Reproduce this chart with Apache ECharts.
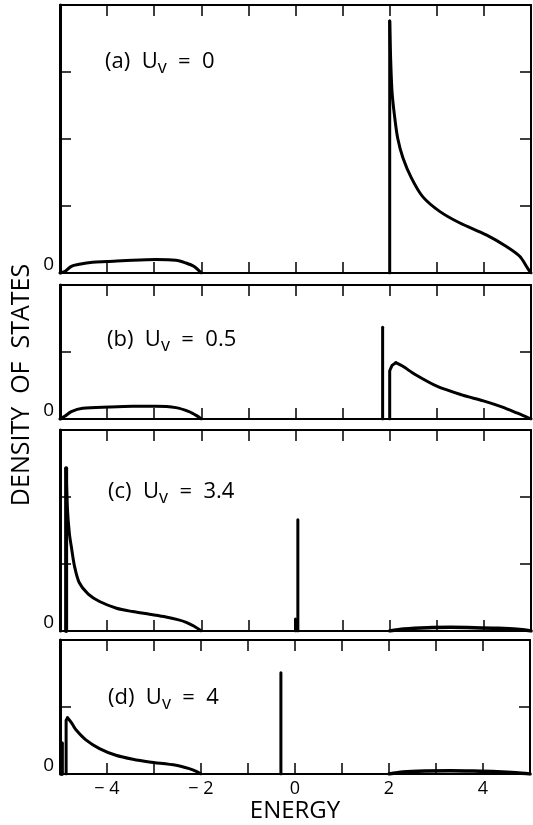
<!DOCTYPE html>
<html lang="en">
<head>
    <meta charset="UTF-8">
    <title>Density of states</title>
    <style>
      * { padding: 0; margin: 0; }
      body { background: #fff; }
    </style>
</head>
<body>
    <div id="main" style="width: 533px;height:825px;"></div>
    <script src="https://cdn.jsdelivr.net/npm/echarts@6/dist/echarts.min.js"></script>
    <script>
    // energy axis
    var energyMin = -5, energyMax = 5;
    var energyTickLabels = [-4, -2, 0, 2, 4];

    // panel titles and y ranges (same scale in every panel)
    var panelNames = ['(a)', '(b)', '(c)', '(d)'];
    var panelUv = ['0', '0.5', '3.4', '4'];
    var panelYMax = [4, 2, 3, 2];

    // (a) Uv = 0
    var aValence = [[-5,0],[-4.9,0.02],[-4.76,0.1],[-4.59,0.13],[-4.31,0.16],[-4.0,0.17],[-3.46,0.19],[-2.97,0.2],[-2.54,0.19],[-2.33,0.15],[-2.16,0.1],[-2.0,0]];
    var aSpike = [[2,0],[2,3.76]];
    var aConduction = [[2.0,3.76],[2.02,3.2],[2.05,2.7],[2.1,2.36],[2.17,2.01],[2.28,1.72],[2.46,1.42],[2.7,1.14],[3.06,0.92],[3.48,0.75],[4.05,0.57],[4.47,0.4],[4.76,0.25],[4.93,0.07],[5,0]];

    // (b) Uv = 0.5
    var bValence = [[-5,0],[-4.9,0.04],[-4.76,0.11],[-4.52,0.16],[-3.95,0.18],[-3.46,0.19],[-2.97,0.19],[-2.54,0.17],[-2.26,0.11],[-2.1,0.05],[-2.0,0]];
    var bBound = [[1.85,0],[1.85,1.37]];
    var bEdge = [[2.0,0],[2.0,0.72],[2.05,0.8],[2.13,0.84]];
    var bConduction = [[2.13,0.84],[2.27,0.79],[2.55,0.66],[3.0,0.49],[3.53,0.36],[3.99,0.27],[4.38,0.18],[4.7,0.09],[4.9,0.03],[5,0]];

    // (c) Uv = 3.4
    var cSpike = [[-4.87,0],[-4.87,2.43]];
    var cValence = [[-4.87,2.43],[-4.84,1.8],[-4.8,1.45],[-4.76,1.26],[-4.69,0.96],[-4.59,0.72],[-4.4,0.55],[-4.16,0.44],[-3.8,0.34],[-3.46,0.29],[-3.1,0.25],[-2.75,0.21],[-2.5,0.17],[-2.32,0.13],[-2.15,0.07],[-2.0,0]];
    var cBound = [[0.05,0],[0.05,1.66]];
    var cBoundStub = [[0.0,0],[0.0,0.18]];
    var cConduction = [[2,0],[2.3,0.03],[2.8,0.05],[3.3,0.055],[3.8,0.05],[4.3,0.04],[4.7,0.025],[5,0]];

    // (d) Uv = 4
    var dStub = [[-4.96,0],[-4.96,0.46]];
    var dEdge = [[-4.87,0],[-4.87,0.8],[-4.84,0.84]];
    var dValence = [[-4.84,0.84],[-4.75,0.76],[-4.66,0.66],[-4.45,0.51],[-4.16,0.38],[-3.81,0.28],[-3.45,0.22],[-3.1,0.18],[-2.53,0.13],[-2.25,0.08],[-2.1,0.04],[-2.0,0]];
    var dBound = [[-0.3,0],[-0.3,1.51]];
    var dConduction = [[2,0],[2.3,0.03],[2.8,0.045],[3.3,0.05],[3.8,0.045],[4.3,0.035],[4.7,0.02],[5,0]];

    var FONT = 'Open Sans';
    var gridTops = [5, 285, 430, 640];
    var pxPerUnit = 67;

    var grids = [], xAxes = [], yAxes = [], series = [], graphics = [];

    panelYMax.forEach(function (ymax, i) {
        grids.push({ left: 60, right: 2, top: gridTops[i], height: ymax * pxPerUnit });
        var last = i === panelYMax.length - 1;
        // bottom energy axis
        xAxes.push({
            type: 'value', gridIndex: i, position: 'bottom', min: energyMin, max: energyMax, interval: 1,
            axisLine: { onZero: false, lineStyle: { color: '#000', width: 2 } },
            axisTick: { inside: true, length: 11, lineStyle: { color: '#000', width: 1.5 } },
            axisLabel: {
                show: last, margin: 6, color: '#000', fontSize: 18, fontFamily: FONT, fontWeight: 500,
                formatter: function (v) {
                    if (energyTickLabels.indexOf(v) < 0) return '';
                    return v < 0 ? '\u2212 ' + Math.abs(v) : String(v);
                }
            },
            splitLine: { show: false },
            name: last ? 'ENERGY' : '', nameLocation: 'middle', nameGap: 25,
            nameTextStyle: { color: '#000', fontSize: 24, fontFamily: FONT }
        });
        // top axis (ticks only)
        xAxes.push({
            type: 'value', gridIndex: i, position: 'top', min: energyMin, max: energyMax, interval: 1,
            axisLine: { onZero: false, lineStyle: { color: '#000', width: 2 } },
            axisTick: { inside: true, length: 11, lineStyle: { color: '#000', width: 1.5 } },
            axisLabel: { show: false }, splitLine: { show: false }
        });
        yAxes.push({
            type: 'value', gridIndex: i, position: 'left', min: 0, max: ymax, interval: 1,
            axisLine: { show: true, onZero: false, lineStyle: { color: '#000', width: 3 } },
            axisTick: { show: true, inside: true, length: 11, lineStyle: { color: '#000', width: 1.5 } },
            axisLabel: {
                margin: 6, color: '#000', fontSize: 19, fontFamily: FONT, verticalAlign: 'bottom', lineHeight: 16,
                formatter: function (v) { return v === 0 ? '0' : ''; }
            },
            splitLine: { show: false }
        });
        yAxes.push({
            type: 'value', gridIndex: i, position: 'right', min: 0, max: ymax, interval: 1,
            axisLine: { show: true, onZero: false, lineStyle: { color: '#000', width: 2 } },
            axisTick: { show: true, inside: true, length: 11, lineStyle: { color: '#000', width: 1.5 } },
            axisLabel: { show: false }, splitLine: { show: false }
        });
    });

    function addLine(panel, data, smooth, width) {
        series.push({
            type: 'line', xAxisIndex: panel * 2, yAxisIndex: panel * 2,
            data: data, showSymbol: false, symbol: 'none', smooth: smooth ? 0.3 : false,
            lineStyle: { color: '#000', width: width || 3, cap: 'round', join: 'round' },
            silent: true, z: 3
        });
    }

    addLine(0, aValence, true);
    addLine(0, aSpike, false);
    addLine(0, aConduction, true);

    addLine(1, bValence, true);
    addLine(1, bBound, false);
    addLine(1, bEdge, false);
    addLine(1, bConduction, true);

    addLine(2, cSpike, false, 4);
    addLine(2, cValence, true);
    addLine(2, cBound, false);
    addLine(2, cBoundStub, false);
    addLine(2, cConduction, true, 3.5);

    addLine(3, dStub, false, 4);
    addLine(3, dEdge, false);
    addLine(3, dValence, true);
    addLine(3, dBound, false);
    addLine(3, dConduction, true, 3.5);

    // panel labels
    var labelPos = [[105, 66], [107, 344], [108, 496], [108, 702]];
    panelNames.forEach(function (n, i) {
        graphics.push({
            type: 'text', left: labelPos[i][0], top: labelPos[i][1] - 15,
            style: {
                text: n + '  U{s|v}  =  ' + panelUv[i],
                fontSize: 22, fontFamily: FONT, fill: '#000',
                rich: { s: { fontSize: 18, fontFamily: FONT, fill: '#000', padding: [12, 0, 0, 0] } }
            }
        });
    });

    // density of states label
    graphics.push({
        type: 'text', x: 22, y: 385, rotation: Math.PI / 2,
        style: {
            text: 'DENSITY  OF  STATES', fontSize: 25, fontFamily: FONT, fill: '#000',
            align: 'center', verticalAlign: 'middle'
        }
    });

    var option = {
        animation: false,
        backgroundColor: '#fff',
        grid: grids,
        xAxis: xAxes,
        yAxis: yAxes,
        series: series,
        graphic: graphics
    };

    var myChart = echarts.init(document.getElementById('main'));
    myChart.setOption(option);
    </script>
</body>
</html>
